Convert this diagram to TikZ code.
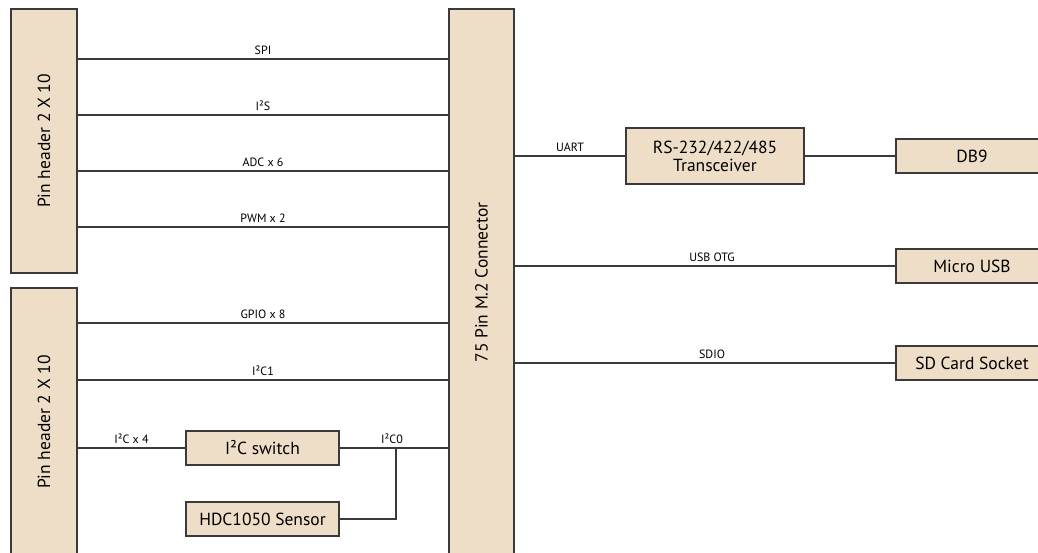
\documentclass[tikz,border=0pt]{standalone}
\usepackage{fontspec}
\setmainfont{PT Sans}
\definecolor{boxfill}{HTML}{EEDEC8}
\definecolor{linec}{HTML}{3A3A3A}
\begin{document}
\begin{tikzpicture}[x=1pt,y=-1pt,
  bigfont/.style={font=\fontsize{17.5}{20}\selectfont},
  blk/.style={draw=linec,line width=1.2pt,fill=boxfill,rectangle,inner sep=0pt,bigfont,align=center},
  wire/.style={draw=linec,line width=1.1pt},
  lbl/.style={font=\fontsize{12}{14}\selectfont,anchor=south,inner sep=0pt,yshift=3.5pt}]
\useasboundingbox (0,0) rectangle (1038,552);
\clip (0,0) rectangle (1038,552);
% blocks
\node[blk,minimum width=66pt,minimum height=264pt] (ph1) at (44,141) {};
\node[rotate=90,bigfont] (ph1t) at (44,141) {Pin header 2 X 10};
\node[blk,minimum width=66pt,minimum height=268pt] (ph2) at (44,422) {};
\node[rotate=90,bigfont] (ph2t) at (44,422) {Pin header 2 X 10};
\node[blk,minimum width=65pt,minimum height=547pt] (conn) at (481.5,282.5) {};
\node[rotate=90,bigfont] (connt) at (481.5,282.5) {75 Pin M.2 Connector};
\node[blk,minimum width=153pt,minimum height=34pt] (sw) at (262.5,448) {I²C switch};
\node[blk,minimum width=153pt,minimum height=34pt] (hdc) at (262.5,519) {HDC1050 Sensor};
\node[blk,minimum width=178pt,minimum height=56pt] (xcv) at (715,156) {RS-232/422/485\\[-2pt]Transceiver};
\node[blk,minimum width=152pt,minimum height=34pt] (db9) at (972,156) {DB9};
\node[blk,minimum width=152pt,minimum height=34pt] (usb) at (972,266) {Micro USB};
\node[blk,minimum width=152pt,minimum height=34pt] (sd) at (972,363) {SD Card Socket};
% left side wires
\draw[wire] (ph1.east |- 0,59) -- node[lbl] (lspi) {SPI} (conn.west |- 0,59);
\draw[wire] (ph1.east |- 0,115) -- node[lbl] (li2s) {I²S} (conn.west |- 0,115);
\draw[wire] (ph1.east |- 0,171) -- node[lbl] (ladc) {ADC x 6} (conn.west |- 0,171);
\draw[wire] (ph1.east |- 0,227) -- node[lbl] (lpwm) {PWM x 2} (conn.west |- 0,227);
\draw[wire] (ph2.east |- 0,323) -- node[lbl] (lgpio) {GPIO x 8} (conn.west |- 0,323);
\draw[wire] (ph2.east |- 0,380) -- node[lbl] (li2c1) {I²C1} (conn.west |- 0,380);
\draw[wire] (ph2.east |- sw.west) -- node[lbl] (li2c4) {I²C x 4} (sw.west);
\draw[wire] (sw.east) -- node[lbl,xshift=-2pt] (li2c0) {I²C0} (conn.west |- sw.east);
\coordinate (br) at (396,448);
\draw[wire] (br) |- (hdc.east);
% right side wires
\draw[wire] (conn.east |- xcv.west) -- node[lbl] (luart) {UART} (xcv.west);
\draw[wire] (xcv.east) -- (db9.west);
\draw[wire] (conn.east |- usb.west) -- node[lbl,xshift=7pt] (lusb) {USB OTG} (usb.west);
\draw[wire] (conn.east |- sd.west) -- node[lbl,xshift=7pt] (lsdio) {SDIO} (sd.west);
\end{tikzpicture}
\end{document}
